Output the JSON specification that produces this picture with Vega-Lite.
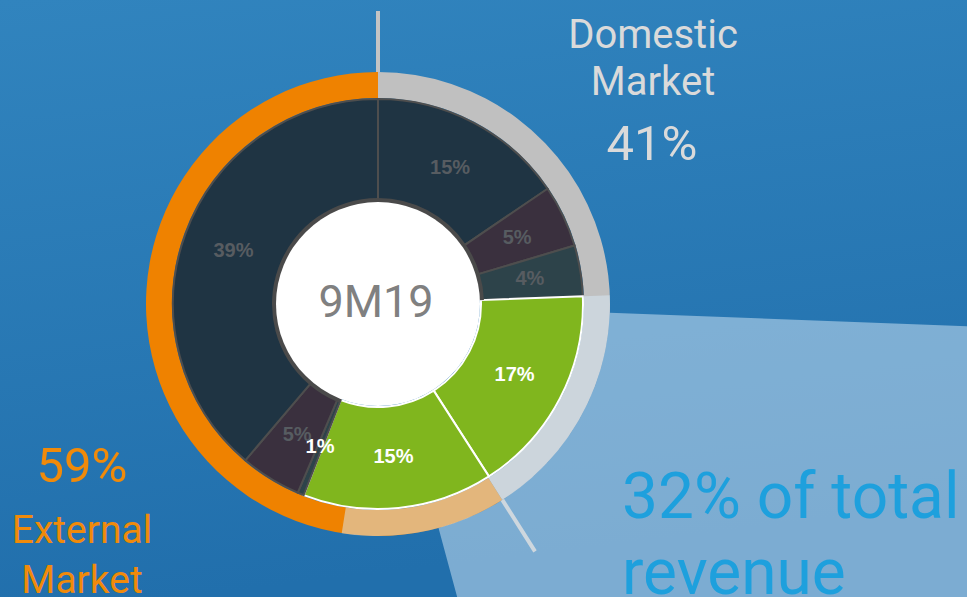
{
  "$schema": "https://vega.github.io/schema/vega-lite/v6.json",
  "width": 967,
  "height": 597,
  "autosize": {"type": "none"},
  "padding": 0,
  "background": "#2a7ab6",
  "config": {"view": {"stroke": null}},
  "datasets": {
    "pie": [
      {"market": "Domestic", "product": "A", "share": 15.5, "label": "15%", "rank": 1},
      {"market": "Domestic", "product": "B", "share": 4.9, "label": "5%", "rank": 2},
      {"market": "Domestic", "product": "C", "share": 4.0, "label": "4%", "rank": 3},
      {"market": "Domestic", "product": "D", "share": 16.5, "label": "17%", "rank": 4},
      {"market": "External", "product": "D", "share": 15.0, "label": "15%", "rank": 5},
      {"market": "External", "product": "C", "share": 0.5, "label": "1%", "rank": 6},
      {"market": "External", "product": "B", "share": 4.8, "label": "5%", "rank": 7},
      {"market": "External", "product": "A", "share": 38.8, "label": "39%", "rank": 8}
    ],
    "ring": [
      {"market": "Domestic", "share": 41, "rank": 1},
      {"market": "External", "share": 59, "rank": 2}
    ],
    "highlight": [
      {"part": "ring", "from": 24.4, "to": 52.5},
      {"part": "beam", "from": 25.6, "to": 45.8}
    ]
  },
  "layer": [
    {
      "data": {"values": [{"k": 1}]},
      "mark": {"type": "rect", "color": {"gradient": "linear", "x1": 0, "y1": 0, "x2": 0.2, "y2": 1, "stops": [{"offset": 0, "color": "#3184be"}, {"offset": 1, "color": "#216fac"}]}},
      "encoding": {
        "x": {"datum": 0, "type": "quantitative", "scale": {"domain": [0, 967], "nice": false, "zero": false}, "axis": null},
        "x2": {"datum": 967},
        "y": {"datum": 0, "type": "quantitative", "scale": {"domain": [0, 597], "nice": false, "zero": false, "reverse": true}, "axis": null},
        "y2": {"datum": 597}
      }
    },
    {
      "data": {"name": "ring"},
      "mark": {"type": "arc", "innerRadius": 206, "outerRadius": 232},
      "encoding": {
        "x": {"datum": 378, "type": "quantitative"},
        "y": {"datum": 304, "type": "quantitative"},
        "theta": {"field": "share", "type": "quantitative", "stack": true, "scale": {"domain": [0, 100]}},
        "order": {"field": "rank", "type": "quantitative"},
        "color": {"field": "market", "type": "nominal", "scale": {"domain": ["Domestic", "External"], "range": ["#c0c0c0", "#ef8200"]}, "legend": null}
      }
    },
    {
      "data": {"name": "ring"},
      "transform": [{"stack": "share", "groupby": [], "sort": [{"field": "rank"}], "as": ["s0", "s1"]}],
      "mark": {"type": "arc", "innerRadius": 232, "outerRadius": 293, "stroke": "#c4c4c4", "strokeWidth": 4, "fillOpacity": 0},
      "encoding": {
        "x": {"datum": 378, "type": "quantitative"},
        "y": {"datum": 304, "type": "quantitative"},
        "theta": {"field": "s0", "type": "quantitative", "stack": null, "scale": {"domain": [0, 100]}},
        "theta2": {"field": "s0"}
      }
    },
    {
      "data": {"name": "highlight"},
      "transform": [{"filter": "datum.part === 'ring'"}],
      "mark": {"type": "arc", "innerRadius": 206, "outerRadius": 232, "color": "#d8e9f7", "opacity": 0.5},
      "encoding": {
        "x": {"datum": 378, "type": "quantitative"},
        "y": {"datum": 304, "type": "quantitative"},
        "theta": {"field": "from", "type": "quantitative", "stack": null, "scale": {"domain": [0, 100]}},
        "theta2": {"field": "to"}
      }
    },
    {
      "data": {"name": "highlight"},
      "transform": [{"filter": "datum.part === 'beam'"}],
      "mark": {"type": "arc", "innerRadius": 232, "outerRadius": 900, "color": "#d8e9f7", "opacity": 0.5},
      "encoding": {
        "x": {"datum": 378, "type": "quantitative"},
        "y": {"datum": 304, "type": "quantitative"},
        "theta": {"field": "from", "type": "quantitative", "stack": null, "scale": {"domain": [0, 100]}},
        "theta2": {"field": "to"}
      }
    },
    {
      "data": {"name": "pie"},
      "mark": {"type": "arc", "innerRadius": 103, "outerRadius": 205, "strokeWidth": 2},
      "encoding": {
        "x": {"datum": 378, "type": "quantitative"},
        "y": {"datum": 304, "type": "quantitative"},
        "theta": {"field": "share", "type": "quantitative", "stack": true, "scale": {"domain": [0, 100]}},
        "order": {"field": "rank", "type": "quantitative"},
        "fill": {"field": "product", "type": "nominal", "scale": {"domain": ["A", "B", "C", "D"], "range": ["#1f3443", "#3a303e", "#2d434a", "#80b61e"]}, "legend": null},
        "stroke": {"condition": {"test": "datum.product === 'D'", "value": "#ffffff"}, "value": "#4e4e4e"}
      }
    },
    {
      "data": {"name": "pie"},
      "mark": {"type": "arc", "innerRadius": 101, "outerRadius": 106},
      "encoding": {
        "x": {"datum": 378, "type": "quantitative"},
        "y": {"datum": 304, "type": "quantitative"},
        "theta": {"field": "share", "type": "quantitative", "stack": true, "scale": {"domain": [0, 100]}},
        "order": {"field": "rank", "type": "quantitative"},
        "fill": {"condition": {"test": "datum.product === 'D'", "value": "transparent"}, "value": "#4a4a4a"}
      }
    },
    {
      "data": {"values": [{"k": 1}]},
      "mark": {"type": "arc", "innerRadius": 0, "outerRadius": 102, "theta": 0, "theta2": 6.2832, "color": "#ffffff"},
      "encoding": {
        "x": {"datum": 378, "type": "quantitative"},
        "y": {"datum": 304, "type": "quantitative"}
      }
    },
    {
      "data": {"name": "pie"},
      "mark": {"type": "text", "radius": 154, "font": "Liberation Sans", "fontSize": 20, "fontWeight": "bold", "align": "center", "baseline": "middle"},
      "encoding": {
        "x": {"datum": 378, "type": "quantitative"},
        "y": {"datum": 304, "type": "quantitative"},
        "theta": {"field": "share", "type": "quantitative", "stack": true, "scale": {"domain": [0, 100]}},
        "order": {"field": "rank", "type": "quantitative"},
        "text": {"field": "label", "type": "nominal"},
        "color": {"condition": {"test": "datum.product === 'D' || datum.share < 1", "value": "#ffffff"}, "value": "#575c61"}
      }
    },
    {
      "data": {"values": [{"k": 1}]},
      "mark": {"type": "text", "font": "Roboto", "fontSize": 45, "align": "center", "baseline": "alphabetic", "color": "#808080"},
      "encoding": {
        "x": {"datum": 376, "type": "quantitative"},
        "y": {"datum": 317, "type": "quantitative"},
        "text": {"value": "9M19"}
      }
    },
    {
      "data": {"values": [{"k": 1}]},
      "mark": {"type": "text", "font": "Roboto", "fontSize": 40, "lineHeight": 47, "align": "center", "baseline": "alphabetic", "color": "#dadada"},
      "encoding": {
        "x": {"datum": 653, "type": "quantitative"},
        "y": {"datum": 48, "type": "quantitative"},
        "text": {"value": ["Domestic", "Market"]}
      }
    },
    {
      "data": {"values": [{"k": 1}]},
      "mark": {"type": "text", "font": "Roboto", "fontSize": 49, "align": "center", "baseline": "alphabetic", "color": "#dadada"},
      "encoding": {
        "x": {"datum": 652, "type": "quantitative"},
        "y": {"datum": 160, "type": "quantitative"},
        "text": {"value": "41%"}
      }
    },
    {
      "data": {"values": [{"k": 1}]},
      "mark": {"type": "text", "font": "Roboto", "fontSize": 49, "align": "center", "baseline": "alphabetic", "color": "#f08a0a"},
      "encoding": {
        "x": {"datum": 82, "type": "quantitative"},
        "y": {"datum": 482, "type": "quantitative"},
        "text": {"value": "59%"}
      }
    },
    {
      "data": {"values": [{"k": 1}]},
      "mark": {"type": "text", "font": "Roboto", "fontSize": 39, "lineHeight": 50, "align": "center", "baseline": "alphabetic", "color": "#f08a0a"},
      "encoding": {
        "x": {"datum": 82, "type": "quantitative"},
        "y": {"datum": 543, "type": "quantitative"},
        "text": {"value": ["External", "Market"]}
      }
    },
    {
      "data": {"values": [{"k": 1}]},
      "mark": {"type": "text", "font": "Roboto", "fontSize": 64, "lineHeight": 76, "align": "left", "baseline": "alphabetic", "color": "#1ea0dd"},
      "encoding": {
        "x": {"datum": 622, "type": "quantitative"},
        "y": {"datum": 518, "type": "quantitative"},
        "text": {"value": ["32% of total", "revenue"]}
      }
    }
  ]
}
